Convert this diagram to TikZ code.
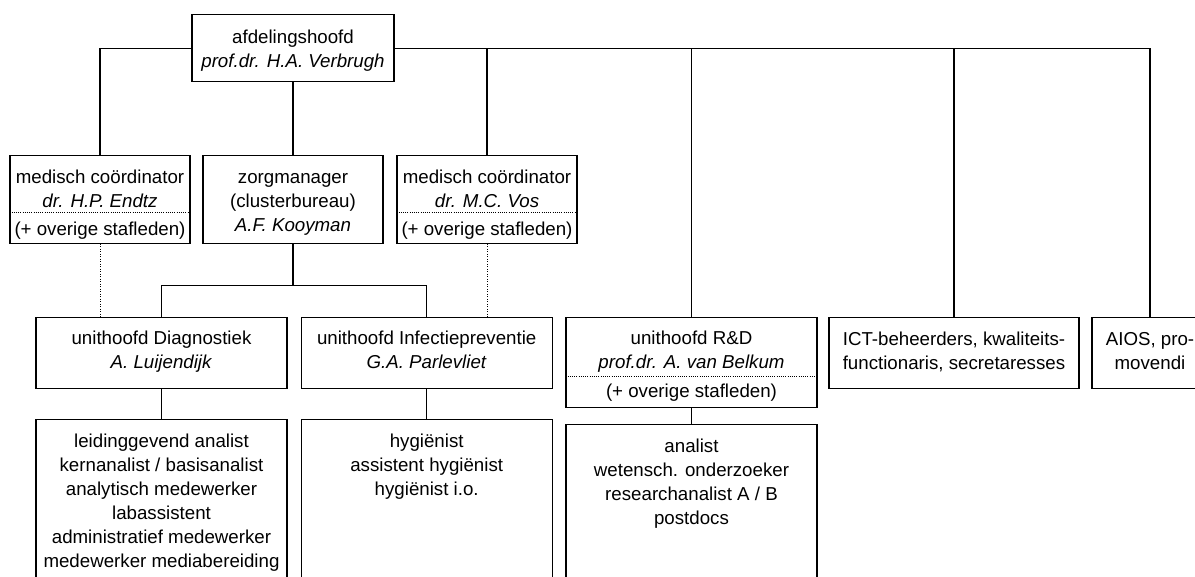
\documentclass[tikz,border=0pt]{standalone}
\usepackage{fontspec}
\setmainfont{Liberation Sans}
\newcommand\hstr[1]{\rule{0pt}{#1}}
\newcommand\dstr[1]{\rule[-#1]{0pt}{#1}}
\begin{document}
\begin{tikzpicture}[x=1pt,y=-1pt,
  box/.style={draw, line width=1.3pt, align=center, anchor=north,
    inner xsep=0pt, inner ysep=0pt, font=\fontsize{18.7}{24}\selectfont},
  conn/.style={line width=1.2pt},
  dotconn/.style={line width=0.9pt, dash pattern=on 0.9pt off 1.6pt},
  sep/.style={line width=0.9pt, dash pattern=on 0.9pt off 1.3pt}]
\path[use as bounding box] (0,0) rectangle (1195,577);
\clip (0,0) rectangle (1195,577);

% top
\node[box, minimum width=202pt] (top) at (293,14)
  {\hstr{28.5pt}afdelingshoofd\\\textit{prof.dr. H.A. Verbrugh}\dstr{14.5pt}};

% row 2
\node[box, minimum width=180pt] (mc1) at (100,155)
  {\hstr{27.7pt}medisch coördinator\\\textit{dr. H.P. Endtz}\\[4.3pt](+ overige stafleden)\dstr{7.7pt}};
\node[box, minimum width=180pt] (zm) at (293,155)
  {\hstr{27.7pt}zorgmanager\\(clusterbureau)\\\textit{A.F. Kooyman}\dstr{12pt}};
\node[box, minimum width=180pt] (mc2) at (487,155)
  {\hstr{27.7pt}medisch coördinator\\\textit{dr. M.C. Vos}\\[4.3pt](+ overige stafleden)\dstr{7.7pt}};

% row 3
\node[box, minimum width=251pt] (diag) at (161.5,316.7)
  {\hstr{27.5pt}unithoofd Diagnostiek\\\textit{A. Luijendijk}\dstr{19.5pt}};
\node[box, minimum width=251pt] (infp) at (426.7,316.7)
  {\hstr{27.5pt}unithoofd Infectiepreventie\\\textit{G.A. Parlevliet}\dstr{19.5pt}};
\node[box, minimum width=251pt] (rd) at (691.5,316.7)
  {\hstr{27.5pt}unithoofd R\&D\\\textit{prof.dr. A. van Belkum}\\[5pt](+ overige stafleden)\dstr{9.6pt}};
\node[box, minimum width=250pt] (ict) at (954,316.7)
  {\hstr{28.5pt}ICT-beheerders, kwaliteits-\\functionaris, secretaresses\dstr{18.5pt}};
\node[box, minimum width=116pt] (aios) at (1150,316.7)
  {\hstr{28.5pt}AIOS, pro-\\movendi\dstr{18.5pt}};

% row 4
\node[box, minimum width=251pt] (ldiag) at (161.5,419)
  {\hstr{27.7pt}leidinggevend analist\\kernanalist / basisanalist\\analytisch medewerker\\labassistent\\administratief medewerker\\medewerker mediabereiding\dstr{40pt}};
\node[box, minimum width=251pt] (linf) at (426.7,419)
  {\hstr{27.7pt}hygiënist\\assistent hygiënist\\hygiënist i.o.\dstr{130pt}};
\node[box, minimum width=251pt] (lrd) at (691.5,424)
  {\hstr{27.7pt}analist\\wetensch. onderzoeker\\researchanalist A / B\\postdocs\dstr{110pt}};

% separators
\draw[sep] (mc1.west |- 0,212) -- (mc1.east |- 0,212);
\draw[sep] (mc2.west |- 0,212) -- (mc2.east |- 0,212);
\draw[sep] (rd.west |- 0,376.7) -- (rd.east |- 0,376.7);

% connectors
\draw[conn] (top.west) -| (mc1.north);
\draw[conn] (top.south) -- (zm.north);
\draw[conn] (top.east) -| (aios.north);
\draw[conn] (top.east -| mc2.north) -- (mc2.north);
\draw[conn] (top.east -| rd.north) -- (rd.north);
\draw[conn] (top.east -| ict.north) -- (ict.north);

\draw[dotconn] (mc1.south) -- (mc1.south |- diag.north);
\draw[dotconn] (mc2.south) -- (mc2.south |- infp.north);

\coordinate (zmj) at (293,285.7);
\draw[conn] (zm.south) -- (zmj);
\draw[conn] (diag.north) |- (zmj) -| (infp.north);

\draw[conn] (diag.south) -- (ldiag.north);
\draw[conn] (infp.south) -- (linf.north);
\draw[conn] (rd.south) -- (lrd.north);
\end{tikzpicture}
\end{document}
